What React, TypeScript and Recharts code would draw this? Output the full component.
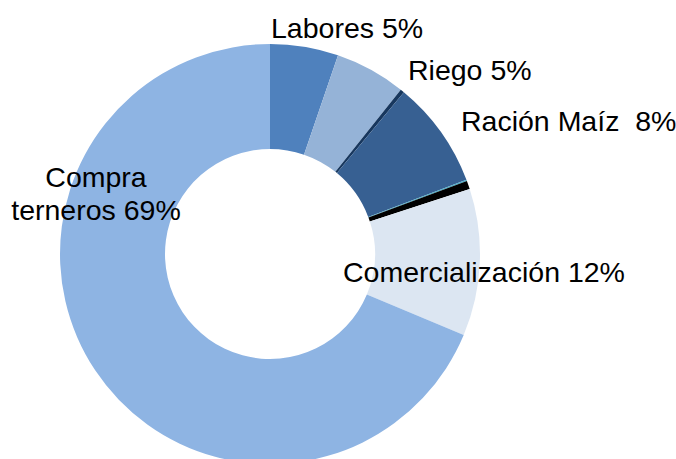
import React from "react";
import { PieChart, Pie, Cell } from "recharts";

const categories = [
  "Labores",
  "Riego",
  "Otros A",
  "Ración Maíz",
  "Otros B",
  "Otros C",
  "Comercialización",
  "Compra terneros",
];
const shares = [5.25, 5.45, 0.3, 8.25, 0.1, 0.64, 11.32, 68.69];
const labelTexts: (string[] | null)[] = [
  ["Labores 5%"],
  ["Riego 5%"],
  null,
  ["Ración Maíz\u00a0\u00a08%"],
  null,
  null,
  ["Comercialización 12%"],
  ["Compra", "terneros 69%"],
];
const colors = [
  "#4F81BD",
  "#95B3D7",
  "#17375E",
  "#376092",
  "#4BACC6",
  "#000000",
  "#DCE6F2",
  "#8EB4E3",
];

// label layout: offset from pie centre (x, baseline y), anchor
const labelLayout: ({ dx: number; dy: number; anchor: "start" | "middle" } | null)[] = [
  { dx: 1, dy: -216, anchor: "start" },
  { dx: 138, dy: -174, anchor: "start" },
  null,
  { dx: 191, dy: -123, anchor: "start" },
  null,
  null,
  { dx: 73, dy: 28, anchor: "start" },
  { dx: -174, dy: -67, anchor: "middle" },
];

const data = categories.map((name, i) => ({ name, value: shares[i] }));

const FONT = "'Liberation Sans', Arial, sans-serif";

const renderLabel = (props: any) => {
  const { cx, cy, index } = props;
  const lines = labelTexts[index];
  const lay = labelLayout[index];
  if (!lines || !lay) return null;
  return (
    <text
      key={`lbl-${index}`}
      x={cx + lay.dx}
      y={cy + lay.dy}
      textAnchor={lay.anchor}
      fill="#000"
      fontFamily={FONT}
      fontSize={28.5}
    >
      {lines.map((l, k) => (
        <tspan key={k} x={cx + lay.dx} dy={k === 0 ? 0 : 33}>
          {l}
        </tspan>
      ))}
    </text>
  );
};

export default function App() {
  return (
    <div style={{ position: "absolute", left: 0, top: 0, width: 676, height: 459, background: "#fff" }}>
      <PieChart width={676} height={459} margin={{ top: 0, right: 0, bottom: 0, left: 0 }}>
        <Pie
          data={data}
          dataKey="value"
          nameKey="name"
          cx={270}
          cy={254}
          innerRadius={105}
          outerRadius={210}
          startAngle={90}
          endAngle={-270}
          stroke="none"
          labelLine={false}
          label={renderLabel}
          isAnimationActive={false}
        >
          {data.map((d, i) => (
            <Cell key={d.name} fill={colors[i]} />
          ))}
        </Pie>
      </PieChart>
    </div>
  );
}
